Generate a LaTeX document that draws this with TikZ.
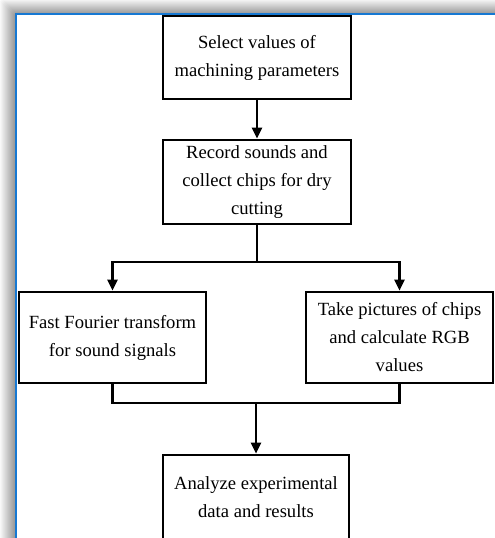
\documentclass[tikz,border=0pt]{standalone}
\usepackage{fontspec}
\setmainfont{Liberation Serif}
\usetikzlibrary{arrows.meta}
\definecolor{frameblue}{RGB}{22,120,210}
\tikzset{
  stepbox/.style={draw, line width=2.6pt, minimum width=188pt, align=center,
    inner sep=0pt, font=\fontsize{18.6}{28}\selectfont},
  flow/.style={line width=2.4pt},
  flowarrow/.style={line width=2.4pt, -{Triangle[width=10pt,length=11pt]}}
}
\begin{document}
\begin{tikzpicture}[x=1pt,y=-1pt]
\useasboundingbox (0,0) rectangle (495,538);
\clip (0,0) rectangle (495,538);
% shadow
\fill[white] (0,0) rectangle (495,538);
\foreach \i in {0,...,14}{
  \pgfmathsetmacro{\k}{(\i+1)*2.6}
  \fill[black!\k, rounded corners=3pt] (\i,\i-1) rectangle (560,600);
}
\fill[white] (16,14) rectangle (560,600);
\draw[frameblue, line width=2.4pt] (16,600) -- (16,14) -- (560,14);
% boxes
\node[stepbox, minimum height=83pt] (b1) at (257,57.5) {Select values of\\machining parameters};
\node[stepbox, minimum height=84pt] (b2) at (257,182) {Record sounds and\\collect chips for dry\\cutting};
\node[stepbox, minimum height=91pt, minimum width=187pt] (b3) at (112.5,337.5) {Fast Fourier transform\\for sound signals};
\node[stepbox, minimum height=91pt, minimum width=187pt] (b4) at (399.5,337.5) {Take pictures of chips\\and calculate RGB\\values};
\node[stepbox, minimum height=85pt, minimum width=186pt] (b5) at (256,497.5) {Analyze experimental\\data and results};
% connectors
\coordinate (split) at (b2.south |- 0,262);
\coordinate (join) at (b5.north |- 0,403);
\draw[flowarrow] (b1.south) -- (b2.north);
\draw[flow] (b2.south) -- (split);
\draw[flowarrow] (split) -| (b3.north);
\draw[flowarrow] (split) -| (b4.north);
\draw[flow] (b3.south) |- (join);
\draw[flow] (b4.south) |- (join);
\draw[flowarrow] (join) -- (b5.north);
\end{tikzpicture}
\end{document}
